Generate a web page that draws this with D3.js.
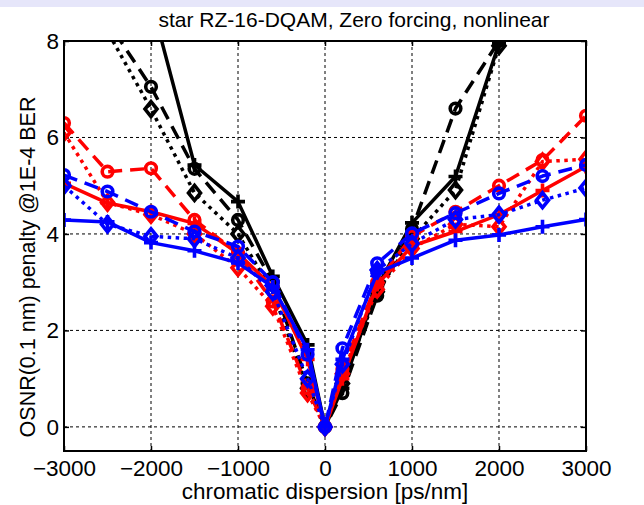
<!DOCTYPE html>
<html><head><meta charset="utf-8">
<script src="https://cdn.jsdelivr.net/npm/d3@7/dist/d3.min.js"></script>
<style>
body{margin:0;background:#fff;}
svg text{font-family:"Liberation Sans",Arial,Helvetica,sans-serif;fill:#000;}
</style>
</head><body>
<svg id="chart" width="644" height="505"></svg>
<script>
// ---- data ----
const dispersion = [-3000,-2500,-2000,-1500,-1000,-600,-200,0,200,600,1000,1500,2000,2500,3000];
const blackSolid  = [12.5,10.8,8.84,5.43,4.67,3.12,1.70,0,0.80,2.90,4.23,5.19,7.95,10.6,13.0];
const blackDashed = [10.2,8.41,7.05,5.35,4.29,3.00,0.90,0,0.70,2.72,4.10,6.60,8.00,10.8,13.2];
const blackDotted = [9.9,8.20,6.59,4.85,4.00,2.80,0.80,0,0.90,2.80,3.90,4.91,7.90,10.5,12.8];
const redSolid    = [5.05,4.64,4.46,4.22,3.60,2.90,1.40,0,1.00,2.95,3.75,4.05,4.40,4.90,5.40];
const redDashed   = [6.30,5.29,5.36,4.29,3.60,2.60,0.80,0,1.20,3.00,3.95,4.46,5.00,5.53,6.45];
const redDotted   = [6.10,4.65,4.40,4.00,3.30,2.50,0.70,0,1.10,2.85,3.70,4.20,4.15,5.50,5.55];
const blueSolid   = [4.29,4.25,3.82,3.65,3.40,2.90,1.60,0,1.40,3.20,3.50,3.87,3.98,4.15,4.30];
const blueDashed  = [5.22,4.88,4.46,4.05,3.74,3.00,1.50,0,1.63,3.39,4.01,4.43,4.84,5.20,5.43];
const blueDotted  = [5.00,4.20,3.95,3.90,3.50,2.80,1.00,0,1.30,3.25,3.80,4.30,4.40,4.70,4.95];
const xTicks = [-3000,-2000,-1000,0,1000,2000,3000];
const yTicks = [0,2,4,6,8];
const titleText = "star RZ-16-DQAM, Zero forcing, nonlinear";
const xLabel = "chromatic dispersion [ps/nm]";
const yLabel = "OSNR(0.1 nm) penalty @1E-4 BER";

// ---- series styling ----
const series = [
  {v: blackSolid,  color:"#000000", dash:null,   marker:"plus"},
  {v: blackDashed, color:"#000000", dash:"14,8", marker:"circle"},
  {v: blackDotted, color:"#000000", dash:"3.5,4.5",  marker:"diamond"},
  {v: redSolid,    color:"#ff0000", dash:null,   marker:"plus"},
  {v: redDashed,   color:"#ff0000", dash:"14,8", marker:"circle"},
  {v: redDotted,   color:"#ff0000", dash:"3.5,4.5",  marker:"diamond"},
  {v: blueSolid,   color:"#0000ff", dash:null,   marker:"plus"},
  {v: blueDashed,  color:"#0000ff", dash:"14,8", marker:"circle"},
  {v: blueDotted,  color:"#0000ff", dash:"3.5,4.5",  marker:"diamond"}
];

const L=64, R=586, T=41, B=451;
const svg = d3.select("#chart");
svg.append("rect").attr("x",0).attr("y",0).attr("width",644).attr("height",505).attr("fill","#fff");
svg.append("rect").attr("x",0).attr("y",0).attr("width",644).attr("height",7).attr("fill","#e6e6fa");

const x = d3.scaleLinear().domain([-3000,3000]).range([L,R]);
const y = d3.scaleLinear().domain([-0.5,8]).range([B,T]);

svg.append("defs").append("clipPath").attr("id","clip")
  .append("rect").attr("x",L).attr("y",T).attr("width",R-L).attr("height",B-T);

// grid
const grid = svg.append("g").attr("stroke","#000").attr("stroke-width",1).attr("stroke-dasharray","3,3");
xTicks.forEach(t=>{ if(t>-3000 && t<3000) grid.append("line").attr("x1",x(t)).attr("x2",x(t)).attr("y1",T).attr("y2",B); });
yTicks.forEach(t=>{ if(t<8) grid.append("line").attr("x1",L).attr("x2",R).attr("y1",y(t)).attr("y2",y(t)); });

// axes
const fs = "22.5px";
const gx = svg.append("g").attr("transform",`translate(0,${B})`)
  .call(d3.axisBottom(x).tickValues(xTicks).tickSizeInner(-5).tickSizeOuter(0).tickPadding(9).tickFormat(d3.format("d")));
const gxt = svg.append("g").attr("transform",`translate(0,${T})`)
  .call(d3.axisTop(x).tickValues(xTicks).tickSizeInner(-5).tickSizeOuter(0).tickFormat(""));
const gy = svg.append("g").attr("transform",`translate(${L},0)`)
  .call(d3.axisLeft(y).tickValues(yTicks).tickSizeInner(-5).tickSizeOuter(0).tickPadding(5));
const gyr = svg.append("g").attr("transform",`translate(${R},0)`)
  .call(d3.axisRight(y).tickValues(yTicks).tickSizeInner(-5).tickSizeOuter(0).tickFormat(""));
[gx,gxt,gy,gyr].forEach(g=>{
  g.select(".domain").remove();
  g.selectAll("line").attr("stroke","#000").attr("stroke-width",1.5);
  g.selectAll("text").style("font-size",fs).attr("fill","#000")
   .style("font-family","'Liberation Sans',Arial,sans-serif");
});

// lines
const plot = svg.append("g").attr("clip-path","url(#clip)");
const line = d3.line().x((d,i)=>x(dispersion[i])).y(d=>y(d));
series.forEach(s=>{
  plot.append("path").datum(s.v).attr("d",line)
    .attr("fill","none").attr("stroke",s.color).attr("stroke-width",3.5)
    .attr("stroke-linejoin","round")
    .attr("stroke-dasharray",s.dash);
  const pts = s.v.map((d,i)=>[x(dispersion[i]),y(d)]).filter(p=>p[1]>=T-6);
  const g = plot.append("g").attr("stroke",s.color).attr("stroke-width",3.6).attr("fill","none");
  pts.forEach(p=>{
    if(s.marker==="plus"){
      g.append("path").attr("d",`M${p[0]-7},${p[1]}H${p[0]+7}M${p[0]},${p[1]-7}V${p[1]+7}`);
    } else if(s.marker==="circle"){
      g.append("circle").attr("cx",p[0]).attr("cy",p[1]).attr("r",5.3);
    } else {
      g.append("path").attr("d",`M${p[0]},${p[1]-7.5}L${p[0]+6},${p[1]}L${p[0]},${p[1]+7.5}L${p[0]-6},${p[1]}Z`);
    }
  });
});

// frame
svg.append("rect").attr("x",L).attr("y",T).attr("width",R-L).attr("height",B-T)
  .attr("fill","none").attr("stroke","#000").attr("stroke-width",2);

// texts
svg.append("text").attr("x",354).attr("y",27).attr("text-anchor","middle")
  .style("font-size","21px").text(titleText);
svg.append("text").attr("x",(L+R)/2).attr("y",499).attr("text-anchor","middle")
  .style("font-size","22.5px").text(xLabel);
svg.append("text").attr("transform","translate(35,267) rotate(-90)").attr("text-anchor","middle")
  .style("font-size","21.5px").text(yLabel);
</script>
</body></html>
